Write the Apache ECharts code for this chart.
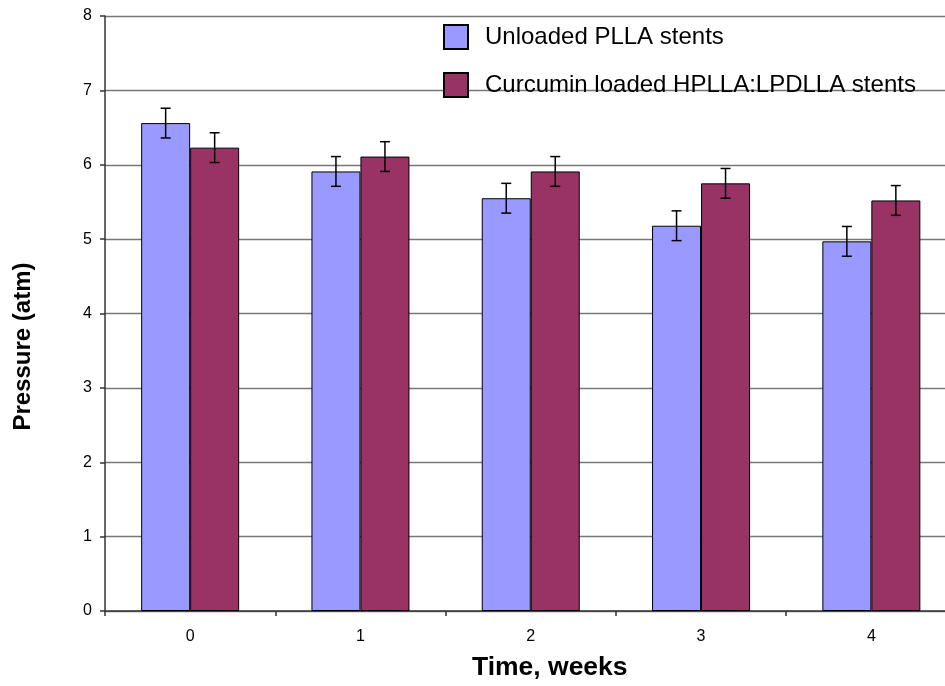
<!DOCTYPE html>
<html>
<head>
<meta charset="utf-8">
<script src="https://cdn.jsdelivr.net/npm/echarts@6/dist/echarts.min.js"></script>
<style>html,body{margin:0;padding:0;background:#fff;overflow:hidden}#c{width:960px;height:686px}</style>
</head>
<body>
<div id="c"></div>
<script>
const categories = ['0', '1', '2', '3', '4'];
const seriesNames = ['Unloaded PLLA stents', 'Curcumin loaded HPLLA:LPDLLA stents'];
const unloaded = [6.56, 5.91, 5.55, 5.18, 4.97];
const curcumin = [6.23, 6.11, 5.91, 5.75, 5.52];
const unloadedErr = [0.2, 0.2, 0.2, 0.2, 0.2];
const curcuminErr = [0.2, 0.2, 0.2, 0.2, 0.2];
const yTicks = [0, 1, 2, 3, 4, 5, 6, 7, 8];

const FONT = 'Liberation Sans, Arial, sans-serif';
const BAR_W = 49;

function errSeries(vals, errs, side) {
  return {
    type: 'custom',
    silent: true,
    z: 10,
    data: vals.map((v, i) => [i, v, errs[i]]),
    renderItem: function (params, api) {
      const i = api.value(0), v = api.value(1), e = api.value(2);
      const top = api.coord([i, v + e]);
      const bot = api.coord([i, v - e]);
      const x = top[0] + side * BAR_W / 2;
      const cap = 5;
      const st = { stroke: '#000', lineWidth: 1.5 };
      return {
        type: 'group',
        children: [
          { type: 'line', shape: { x1: x, y1: top[1], x2: x, y2: bot[1] }, style: st },
          { type: 'line', shape: { x1: x - cap, y1: top[1], x2: x + cap, y2: top[1] }, style: st },
          { type: 'line', shape: { x1: x - cap, y1: bot[1], x2: x + cap, y2: bot[1] }, style: st }
        ]
      };
    }
  };
}

const chart = echarts.init(document.getElementById('c'));
chart.setOption({
  animation: false,
  backgroundColor: '#fff',
  textStyle: { fontFamily: FONT },
  grid: { left: 105, top: 16, width: 851.5, height: 597.7, containLabel: false },
  legend: {
    orient: 'vertical',
    left: 438,
    top: 19,
    itemWidth: 24,
    itemHeight: 24,
    itemGap: 22,
    icon: 'rect',
    data: seriesNames,
    textStyle: { fontSize: 24, color: '#000', fontFamily: FONT, padding: [0, 0, 0, 12] }
  },
  xAxis: {
    type: 'category',
    data: categories,
    name: 'Time, weeks',
    nameLocation: 'middle',
    nameGap: 43,
    nameTextStyle: { fontSize: 26.5, fontWeight: 'bold', color: '#000', fontFamily: FONT, padding: [0, 0, 0, 38] },
    axisLine: { lineStyle: { color: '#333', width: 1.5 } },
    axisTick: { show: true, length: 5, lineStyle: { color: '#333', width: 1.5 } },
    axisLabel: { fontSize: 16, color: '#000', margin: 18, fontFamily: FONT },
    splitLine: { show: false }
  },
  yAxis: {
    type: 'value',
    min: yTicks[0],
    max: yTicks[yTicks.length - 1],
    interval: 1,
    name: 'Pressure (atm)',
    nameLocation: 'middle',
    nameGap: 70,
    nameTextStyle: { fontSize: 24, fontWeight: 'bold', color: '#000', fontFamily: FONT, padding: [0, 66, 0, 0] },
    axisLine: { show: true, lineStyle: { color: '#333', width: 1.5 } },
    axisTick: { show: true, length: 5, lineStyle: { color: '#333', width: 1.5 } },
    axisLabel: { fontSize: 16, color: '#000', margin: 13, fontFamily: FONT },
    splitLine: { show: true, lineStyle: { color: '#777', width: 1.3 } }
  },
  series: [
    {
      name: seriesNames[0],
      type: 'bar',
      data: unloaded,
      barWidth: BAR_W,
      barGap: '0%',
      itemStyle: { color: '#9999FF', borderColor: '#000', borderWidth: 1 }
    },
    {
      name: seriesNames[1],
      type: 'bar',
      data: curcumin,
      barWidth: BAR_W,
      barGap: '0%',
      itemStyle: { color: '#993366', borderColor: '#000', borderWidth: 1 }
    },
    errSeries(unloaded, unloadedErr, -1),
    errSeries(curcumin, curcuminErr, 1)
  ]
});
</script>
</body>
</html>
